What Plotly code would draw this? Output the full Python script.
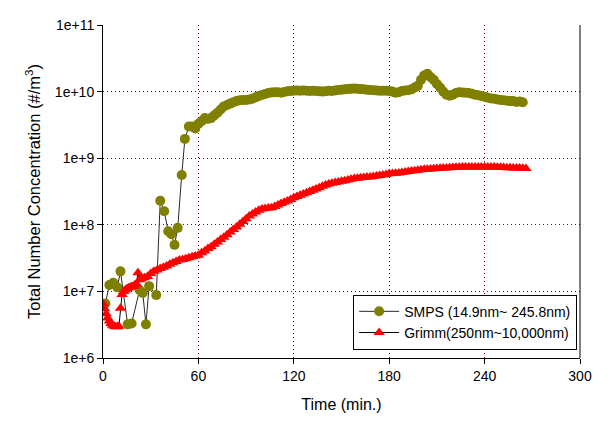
import plotly.graph_objects as go

# ---------------- data ----------------
smps_time = [1.5, 4, 6.5, 9, 11, 15.5, 18, 23, 25, 27, 29, 33.5, 36, 38.5, 41, 43, 45, 47,
             49.5, 51.5, 54, 56, 58, 60, 62, 64, 66, 68, 70, 72, 74, 76, 78, 80, 82, 84, 86,
             88, 90, 92, 94, 96, 98, 100, 102, 104, 106, 108, 110, 112, 114, 116, 118, 120,
             122, 124, 126, 128, 130, 132, 134, 136, 138, 140, 142, 144, 146, 148, 150, 152,
             154, 156, 158, 160, 162, 164, 166, 168, 170, 172, 174, 176, 178, 180, 182, 184,
             186, 188, 190, 192, 194, 196, 198, 200, 202, 204, 206, 208, 210, 212, 214, 216,
             218, 220, 222, 224, 226, 228, 230, 232, 234, 236, 238, 240, 242, 244, 246, 248,
             250, 252, 254, 256, 258, 260, 262, 264]
smps_conc = [6.6e6, 1.25e7, 1.35e7, 1.15e7, 2.0e7, 3.2e6, 3.3e6, 1.05e7, 9.5e6, 3.2e6, 1.2e7,
             8.8e6, 2.3e8, 1.6e8, 8.0e7, 7.2e7, 5.0e7, 9.0e7,
             5.6e8, 1.95e9, 3.0e9, 3.0e9, 2.8e9, 3.3e9, 3.6e9, 4.0e9, 3.9e9, 4.0e9, 4.4e9,
             4.8e9, 5.4e9, 6.0e9, 6.3e9, 6.6e9, 6.9e9, 7.2e9, 7.4e9, 7.5e9, 7.5e9, 7.6e9,
             7.8e9, 8.2e9, 8.6e9, 8.9e9, 9.2e9, 9.5e9, 9.7e9, 9.8e9, 9.8e9, 9.6e9, 9.9e9,
             1.01e10, 1.02e10, 1.03e10, 1.04e10, 1.03e10, 1.04e10, 1.03e10, 1.02e10, 1.03e10,
             1.02e10, 1.01e10, 1.0e10, 1.01e10, 1.03e10, 1.02e10, 1.04e10, 1.06e10, 1.07e10,
             1.08e10, 1.09e10, 1.1e10, 1.11e10, 1.1e10, 1.09e10, 1.08e10, 1.07e10, 1.06e10,
             1.05e10, 1.04e10, 1.03e10, 1.03e10, 1.03e10, 1.02e10, 1.0e10, 9.6e9, 9.8e9,
             1.02e10, 1.04e10, 1.05e10, 1.08e10, 1.15e10, 1.22e10, 1.5e10, 1.75e10, 1.85e10,
             1.65e10, 1.5e10, 1.3e10, 1.15e10, 1.0e10, 9.0e9, 8.7e9, 9.0e9, 9.5e9, 9.8e9,
             9.7e9, 9.6e9, 9.5e9, 9.3e9, 9.0e9, 8.8e9, 8.6e9, 8.4e9, 8.1e9, 7.9e9, 7.8e9,
             7.6e9, 7.5e9, 7.4e9, 7.3e9, 7.2e9, 7.2e9, 7.0e9, 7.1e9, 6.9e9]

grimm_time = [0, 1, 2, 3, 4, 5, 6, 7, 8, 9, 10, 11, 12, 13, 14, 15, 16, 17, 18, 19, 20, 21,
              22, 23, 24, 26, 28, 30, 32, 34, 36, 38, 40, 42, 44, 46, 48, 50, 52, 54, 56, 58,
              60, 62, 64, 66, 68, 70, 72, 74, 76, 78, 80, 82, 84, 86, 88, 90, 92, 94, 96, 98,
              100, 102, 104, 106, 108, 110, 112, 114, 116, 118, 120, 122, 124, 126, 128, 130,
              132, 134, 136, 138, 140, 142, 144, 146, 148, 150, 152, 154, 156, 158, 160, 162,
              164, 166, 168, 170, 172, 174, 176, 178, 180, 182, 184, 186, 188, 190, 192, 194,
              196, 198, 200, 202, 204, 206, 208, 210, 212, 214, 216, 218, 220, 222, 224, 226,
              228, 230, 232, 234, 236, 238, 240, 242, 244, 246, 248, 250, 252, 254, 256, 258,
              260, 262, 264, 266]
grimm_conc = [6.6e6, 5.5e6, 4.6e6, 4.0e6, 3.6e6, 3.3e6, 3.1e6, 3.0e6, 2.95e6, 2.95e6, 3.0e6,
              5.6e6, 9.0e6, 1.0e7, 1.05e7, 1.1e7, 1.12e7, 1.15e7, 1.18e7, 1.2e7, 1.25e7, 1.3e7,
              1.9e7, 1.5e7, 1.55e7, 1.6e7, 1.68e7, 1.85e7, 2.0e7, 2.1e7, 2.2e7, 2.3e7, 2.4e7,
              2.55e7, 2.7e7, 2.8e7, 2.95e7, 3.0e7, 3.1e7, 3.2e7, 3.3e7, 3.4e7,
              3.5e7, 3.8e7, 4.05e7, 4.4e7, 4.7e7, 5.1e7, 5.5e7, 6.0e7, 6.5e7, 7.1e7, 7.8e7,
              8.5e7, 9.3e7, 1.02e8, 1.12e8, 1.23e8, 1.35e8, 1.45e8, 1.55e8, 1.65e8,
              1.72e8, 1.76e8, 1.78e8, 1.8e8, 1.88e8, 1.98e8, 2.08e8, 2.18e8, 2.28e8, 2.4e8,
              2.55e8, 2.65e8, 2.78e8, 2.9e8, 3.02e8, 3.15e8, 3.3e8, 3.45e8, 3.6e8, 3.8e8,
              3.95e8, 4.1e8, 4.2e8, 4.3e8, 4.4e8, 4.5e8, 4.6e8, 4.7e8, 4.85e8, 4.95e8, 5.0e8,
              5.1e8, 5.15e8, 5.2e8, 5.2e8, 5.3e8, 5.4e8, 5.5e8, 5.6e8, 5.7e8, 5.85e8, 5.9e8,
              5.95e8, 6.0e8, 6.1e8, 6.2e8, 6.3e8, 6.4e8, 6.5e8, 6.6e8, 6.7e8, 6.8e8, 6.85e8,
              6.9e8, 6.95e8, 7.0e8, 7.05e8, 7.1e8, 7.15e8, 7.2e8, 7.25e8, 7.3e8, 7.3e8,
              7.35e8, 7.35e8, 7.4e8, 7.4e8, 7.4e8, 7.4e8, 7.4e8, 7.4e8, 7.4e8, 7.35e8, 7.35e8,
              7.3e8, 7.3e8, 7.25e8, 7.2e8, 7.2e8, 7.15e8, 7.1e8, 7.1e8, 7.05e8, 7.0e8]

x_ticks = [0, 60, 120, 180, 240, 300]
y_ticks = [1e6, 1e7, 1e8, 1e9, 1e10, 1e11]
y_tick_labels = ["1e+6", "1e+7", "1e+8", "1e+9", "1e+10", "1e+11"]

# ---------------- figure ----------------
FONT = "Liberation Sans, Arial, sans-serif"
fig = go.Figure()

fig.add_trace(go.Scatter(
    x=smps_time, y=smps_conc, mode="lines+markers",
    name="SMPS (14.9nm~ 245.8nm)",
    line=dict(color="#2a2a2a", width=1),
    marker=dict(symbol="circle", size=10, color="#808000", line=dict(width=0)),
))
fig.add_trace(go.Scatter(
    x=grimm_time, y=grimm_conc, mode="lines+markers",
    name="Grimm(250nm~10,000nm)",
    line=dict(color="#000000", width=1),
    marker=dict(symbol="triangle-up", size=10, color="#FF0000", line=dict(width=0)),
))

grid_col = "#800000"
fig.update_layout(
    width=609, height=427,
    margin=dict(l=95, r=37, t=17, b=77),
    paper_bgcolor="white", plot_bgcolor="white",
    font=dict(family=FONT, size=14, color="black"),
    showlegend=True,
    legend=dict(
        x=0.994, y=0.19, xanchor="right", yanchor="top",
        bgcolor="white", bordercolor="black", borderwidth=1,
        font=dict(family=FONT, size=14, color="black"),
        tracegroupgap=0, itemwidth=40,
    ),
    xaxis=dict(
        range=[0, 300], tickvals=x_ticks, ticks="outside", ticklen=5,
        tickcolor="black", showline=True, linecolor="black", linewidth=1,
        showgrid=True, gridcolor=grid_col, griddash="1px,3px", gridwidth=1,
        zeroline=False, tickfont=dict(size=14), automargin=False,
        title=dict(text="Time (min.)", font=dict(size=16), standoff=16),
    ),
    yaxis=dict(
        type="log", range=[6, 11], tickvals=y_ticks, ticktext=y_tick_labels,
        ticks="outside", ticklen=5, tickcolor="black",
        showline=True, linecolor="black", linewidth=1,
        showgrid=True, gridcolor=grid_col, griddash="1px,3px", gridwidth=1,
        zeroline=False, tickfont=dict(size=14), automargin=False,
        title=dict(text="Total Number Concentration (#/m<sup>3</sup>)",
                   font=dict(size=16.5), standoff=10),
    ),
    shapes=[dict(type="line", xref="paper", yref="paper", x0=1, x1=1, y0=0, y1=1,
                 line=dict(color="black", width=1))],
)

fig.write_html("out.html")
